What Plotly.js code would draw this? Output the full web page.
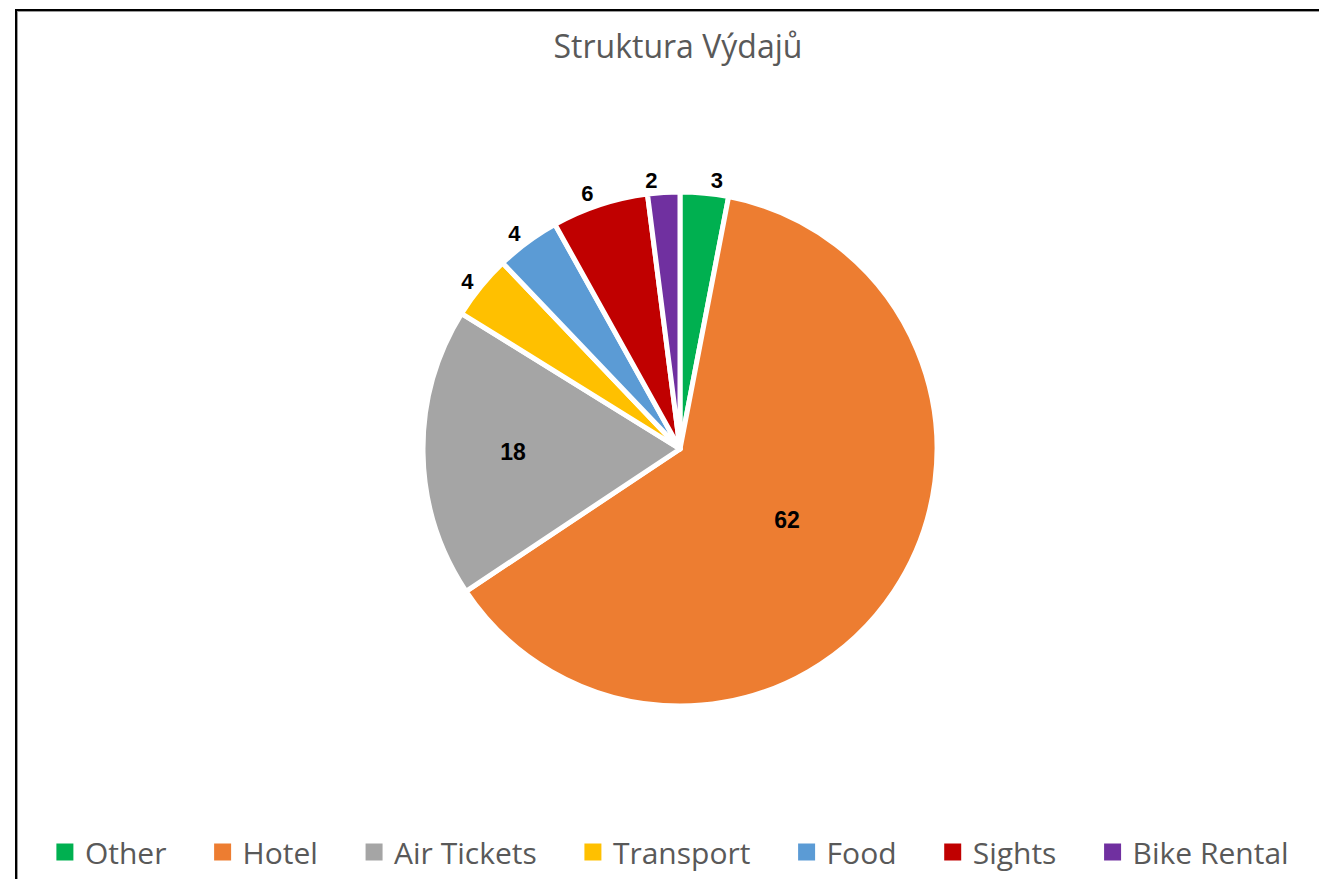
<!DOCTYPE html>
<html>
<head>
<meta charset="utf-8">
<script src="https://cdn.plot.ly/plotly-3.0.1.min.js"></script>
<style>
  html, body { margin: 0; padding: 0; background: #fff; overflow: hidden; }
  #chart { position: absolute; left: 0; top: 0; width: 1319px; height: 879px; }
  #frame { position: absolute; left: 15px; top: 9px; width: 1400px; height: 1000px;
           border-left: 2px solid #000; border-top: 2px solid #000; pointer-events: none;
           box-shadow: inset 1px 1px 0 #9a9a9a; }
</style>
</head>
<body>
<div id="chart"></div>
<div id="frame"></div>
<script>
// ---- data ----
const categories = ["Other", "Hotel", "Air Tickets", "Transport", "Food", "Sights", "Bike Rental"];
const values = [3, 62, 18, 4, 4, 6, 2];
const colors = ["#00B050", "#ED7D31", "#A5A5A5", "#FFC000", "#5B9BD5", "#C00000", "#7030A0"];
const labelPositions = ["outside", "inside", "inside", "outside", "outside", "outside", "none"];
const overlayLabelPositions = ["none", "none", "none", "none", "none", "none", "outside"];
const chartTitle = "Struktura Výdajů";

// legend spacing padding (display only)
const pad = "\u00a0\u00a0\u00a0\u00a0";
const legendLabels = categories.map((c, i) => i < categories.length - 1 ? c + pad : c);

const W = 1319, H = 879;
const cx = 680, cy = 449, R = 257;
const domain = {
  x: [(cx - R) / W, (cx + R) / W],
  y: [(H - cy - R) / H, (H - cy + R) / H]
};
const labelFontIn = { family: "Liberation Sans, Arial, sans-serif", size: 23, color: "#000000", weight: "bold" };
const labelFontOut = { family: "Liberation Sans, Arial, sans-serif", size: 22, color: "#000000", weight: "bold" };

const mainPie = {
  type: "pie",
  labels: legendLabels,
  values: values,
  sort: false,
  direction: "clockwise",
  rotation: 0,
  marker: { colors: colors, line: { color: "#ffffff", width: 5 } },
  textinfo: "value",
  texttemplate: "%{value}",
  textposition: labelPositions,
  insidetextorientation: "horizontal",
  insidetextfont: labelFontIn,
  outsidetextfont: labelFontOut,
  hoverinfo: "label+value",
  domain: domain,
  automargin: false
};

// label-only overlay so the thin slice's outside label is not pushed away by its neighbours
const labelPie = {
  type: "pie",
  labels: legendLabels,
  values: values,
  sort: false,
  direction: "clockwise",
  rotation: 0,
  marker: { colors: categories.map(() => "rgba(0,0,0,0)"), line: { width: 0 } },
  textinfo: "value",
  texttemplate: "%{value}",
  textposition: overlayLabelPositions,
  outsidetextfont: labelFontOut,
  hoverinfo: "skip",
  showlegend: false,
  domain: domain,
  automargin: false
};

const layout = {
  width: W,
  height: H,
  margin: { l: 0, r: 0, t: 0, b: 0 },
  paper_bgcolor: "#ffffff",
  plot_bgcolor: "#ffffff",
  title: {
    text: chartTitle,
    font: { family: "Open Sans, sans-serif", size: 32, color: "#595959" },
    x: 0.514, xanchor: "center",
    y: 1 - 47 / H, yanchor: "middle", yref: "container"
  },
  showlegend: true,
  legend: {
    orientation: "h",
    x: 0.5075, xanchor: "center",
    y: 27 / H, yanchor: "middle",
    font: { family: "Open Sans, sans-serif", size: 30, color: "#595959" },
    traceorder: "normal",
    bgcolor: "rgba(0,0,0,0)"
  }
};

const SYMBOL = "M8.5,8.5H-8.5V-8.5H8.5Z";
function fixLegendSymbols(root) {
  (root || document).querySelectorAll("path.legendpie").forEach(p => {
    if (p.getAttribute("d") !== SYMBOL) p.setAttribute("d", SYMBOL);
    if (p.style.strokeWidth !== "0px" && p.style.strokeWidth !== "0") p.style.strokeWidth = "0px";
  });
}

const gd = document.getElementById("chart");
const obs = new MutationObserver(() => fixLegendSymbols(gd));
obs.observe(gd, { childList: true, subtree: true, attributes: true, attributeFilter: ["d", "style"] });

Plotly.newPlot(gd, [mainPie, labelPie], layout, { displayModeBar: false, staticPlot: true }).then(() => {
  fixLegendSymbols(gd);
});
</script>
</body>
</html>
